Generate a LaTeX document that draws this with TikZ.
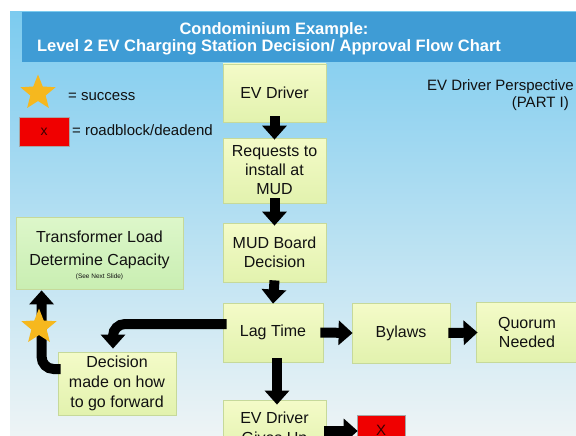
\documentclass[tikz,border=0pt]{standalone}
\usepackage{fontspec}
\setmainfont{Liberation Sans}
\usetikzlibrary{arrows.meta,shapes.geometric}
\definecolor{bgtop}{HTML}{7CCBEF}
\definecolor{bgbot}{HTML}{EEF4F5}
\definecolor{band}{HTML}{3F9CD5}
\definecolor{boxtop}{HTML}{F4FBC8}
\definecolor{boxbot}{HTML}{E2F2AE}
\definecolor{boxline}{HTML}{C6D99A}
\definecolor{grtop}{HTML}{DDF7CA}
\definecolor{grbot}{HTML}{C9EEB2}
\definecolor{starc}{HTML}{F6B81E}
\definecolor{txt}{HTML}{111111}
\definecolor{xred}{HTML}{F00000}
\definecolor{xtxt}{HTML}{3A0000}
\begin{document}
\begin{tikzpicture}[x=1pt,y=-1pt,
  flowbox/.style={draw=boxline, line width=0.8pt, top color=boxtop, bottom color=boxbot,
    text=txt, align=center, inner sep=2pt, font=\fontsize{16}{19}\selectfont},
  greenbox/.style={draw=boxline, line width=0.8pt, top color=grtop, bottom color=grbot},
  bigarrow/.style={draw=black, line width=10pt, -{Triangle[length=14pt,width=24pt]}},
  starmark/.style={star, star points=5, star point ratio=2.3, fill=starc, draw=none,
    minimum size=37pt, inner sep=0pt},
  redbox/.style={draw=gray!70, line width=0.6pt, fill=xred, text=xtxt, inner sep=0pt,
    font=\fontsize{14}{16}\selectfont},
  legend/.style={anchor=west, inner sep=0pt, text=txt, font=\fontsize{15}{18}\selectfont},
  titletext/.style={text=white, inner sep=0pt, font=\fontsize{16.5}{19}\selectfont\bfseries}
]
\useasboundingbox (0,0) rectangle (576,436);
\clip (0,0) rectangle (576,436);
% background
\fill[white] (0,0) rectangle (576,436);
\shade[top color=bgtop, bottom color=bgbot] (10,12) rectangle (576,436);
\fill[band] (22,12) rectangle (576,62);
\node[titletext] (t1) at (274,30) {Condominium Example:};
\node[titletext] (t2) at (269,47) {Level 2 EV Charging Station Decision/ Approval Flow Chart};
% legend
\node[starmark] (lstar) at (38,93) {};
\node[legend] (lsucc) at (68,97) {= success};
\node[redbox, minimum width=50pt, minimum height=29pt] (lred) at (44,131.5) {x};
\node[legend] (lroad) at (72,130) {= roadblock/deadend};
% perspective
\node[anchor=east, inner sep=0pt, text=txt, font=\fontsize{15}{18}\selectfont] (p1) at (574,87) {EV Driver Perspective};
\node[anchor=east, inner sep=0pt, text=txt, font=\fontsize{15}{18}\selectfont] (p2) at (569,104) {(PART I)};
% boxes
\node[flowbox, minimum width=103pt, minimum height=58pt] (ev) at (274.5,93) {EV Driver};
\node[flowbox, minimum width=103pt, minimum height=65pt] (req) at (274.5,170.5) {Requests to\\install at\\MUD};
\node[flowbox, minimum width=103pt, minimum height=59pt] (mud) at (274.5,252.5) {MUD Board\\Decision};
\node[flowbox, minimum width=100pt, minimum height=59pt] (lag) at (273,332.5) {Lag Time};
\node[flowbox, minimum width=98pt, minimum height=60pt] (by) at (401,333) {Bylaws};
\node[flowbox, minimum width=101pt, minimum height=60pt] (quo) at (527,332) {Quorum\\Needed};
\node[greenbox, minimum width=167pt, minimum height=72pt] (tl) at (99.5,253) {};
\node[text=txt, align=center, inner sep=0pt, font=\fontsize{16}{23}\selectfont] (tltext) at (99.5,250) {Transformer Load\\Determine Capacity};
\node[text=txt, inner sep=0pt, font=\fontsize{6.5}{7}\selectfont] (tlnote) at (99.5,276.5) {(See Next Slide)};
\node[flowbox, font=\fontsize{16}{20}\selectfont, minimum width=118pt, minimum height=63pt] (dec) at (117,383.5) {Decision\\made on how\\to go forward};
\node[flowbox, font=\fontsize{16}{20}\selectfont, minimum width=103pt, minimum height=58pt] (give) at (274.5,429) {EV Driver\\Gives Up};
\node[redbox, font=\fontsize{15}{17}\selectfont, minimum width=48pt, minimum height=30pt] (xend) at (381,430) {X};
% connectors
\draw[bigarrow] ([yshift=6pt]ev.south) -- ([yshift=-2pt]req.north);
\draw[bigarrow] ([yshift=5pt]req.south) -- ([yshift=-3pt]mud.north);
\draw[bigarrow] ([yshift=2pt]mud.south) -- ([yshift=-1pt]lag.north);
\draw[bigarrow] ([xshift=4pt,yshift=4pt]lag.south) -- ([xshift=2.5pt,yshift=-5pt]give.north);
\draw[bigarrow] ([xshift=-3pt]lag.east) -- ([xshift=1pt]by.west);
\draw[bigarrow] ([xshift=-2pt]by.east) -- ([xshift=1.5pt,yshift=-0.5pt]quo.west);
\draw[bigarrow] ([xshift=-2pt,yshift=-2pt]give.east) -- ([xshift=1pt,yshift=-1pt]xend.west);
\draw[bigarrow, rounded corners=12pt] ([xshift=4pt,yshift=8.5pt]lag.west) -| ([xshift=-4pt,yshift=3pt]dec.north);
\draw[bigarrow, rounded corners=12pt] ([xshift=3pt,yshift=14.5pt]dec.west) -| ([xshift=26pt,yshift=-1pt]tl.south west);
\node[starmark] (cstar) at (39,327) {};
\end{tikzpicture}
\end{document}
